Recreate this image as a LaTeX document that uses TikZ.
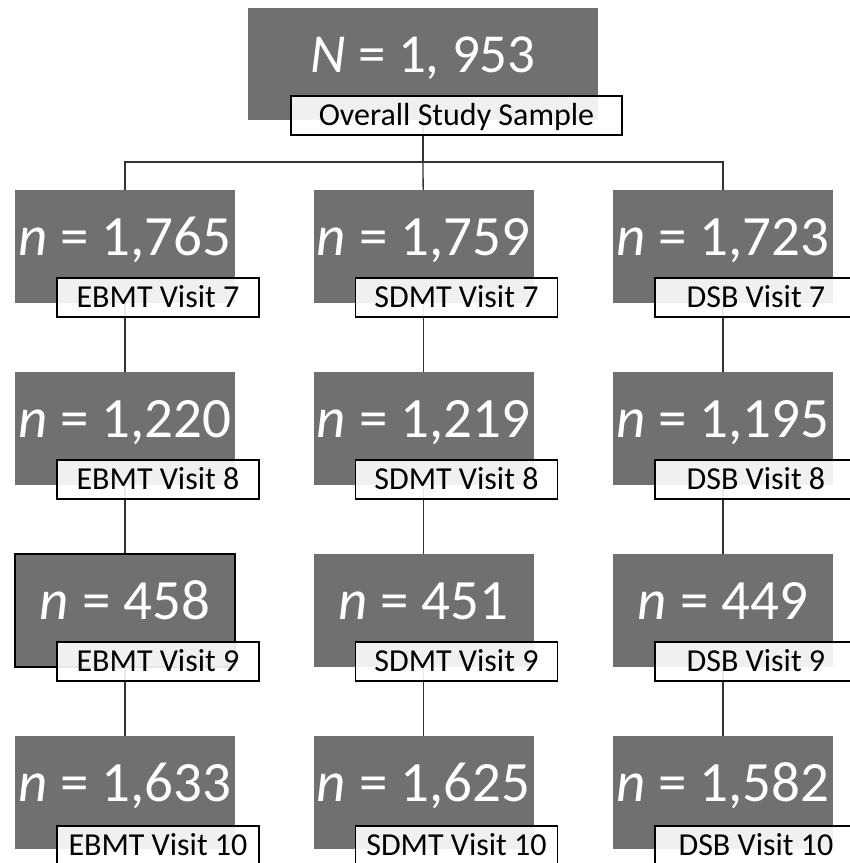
\documentclass[tikz,border=0pt]{standalone}
\usepackage{fontspec}
\setmainfont{Carlito}
\usetikzlibrary{backgrounds}
\definecolor{boxgray}{RGB}{112,112,112}
\definecolor{linegray}{RGB}{50,50,50}
\tikzset{
  countbox/.style={fill=boxgray, draw=none, text=white, inner sep=0pt,
    minimum width=220pt, minimum height=113pt,
    text height=40pt, text depth=23pt,
    font=\fontsize{57}{60}\selectfont},
  topbox/.style={countbox, minimum width=350pt, minimum height=112pt,
    font=\fontsize{55}{60}\selectfont},
  tagbox/.style={draw=black, line width=1.8pt, fill=white, fill opacity=0.9,
    text opacity=1, text=black, inner sep=0pt,
    minimum width=202pt, minimum height=39pt,
    text height=22pt, text depth=3pt,
    font=\fontsize{32}{34}\selectfont},
  conn/.style={draw=linegray, line width=1.3pt},
}
\begin{document}
\begin{tikzpicture}[x=1pt,y=-1pt]
\useasboundingbox (0,0) rectangle (850,863);

% overall sample
\node[topbox] (g0) at (423,64) {{\itshape N} = 1, 953};
\node[tagbox, minimum width=331pt] (t0) at (456.5,115.5) {Overall Study Sample};

% count boxes: columns centred at x = 125, 423.5, 723; row tops at 190, 372, 554, 736
\node[countbox] (g11) at (125,246.5)   {{\itshape n} = 1,765};
\node[countbox] (g12) at (423.5,246.5) {{\itshape n} = 1,759};
\node[countbox] (g13) at (723,246.5)   {{\itshape n} = 1,723};
\node[countbox] (g21) at (125,428.5)   {{\itshape n} = 1,220};
\node[countbox] (g22) at (423.5,428.5) {{\itshape n} = 1,219};
\node[countbox] (g23) at (723,428.5)   {{\itshape n} = 1,195};
\node[countbox, draw=black, line width=1.8pt] (g31) at (125,610.5) {{\itshape n} = 458};
\node[countbox] (g32) at (423.5,610.5) {{\itshape n} = 451};
\node[countbox] (g33) at (723,610.5)   {{\itshape n} = 449};
\node[countbox] (g41) at (125,792.5)   {{\itshape n} = 1,633};
\node[countbox] (g42) at (423.5,792.5) {{\itshape n} = 1,625};
\node[countbox] (g43) at (723,792.5)   {{\itshape n} = 1,582};

% visit tags, overlapping the lower right of each count box
\foreach \r/\v/\dy in {1/7/51, 2/8/51, 3/9/51, 4/10/53}{
  \node[tagbox] (t\r1) at ([xshift=33pt,yshift=-\dy pt]g\r1.center) {EBMT Visit \v};
  \node[tagbox] (t\r2) at ([xshift=33pt,yshift=-\dy pt]g\r2.center) {SDMT Visit \v};
  \node[tagbox] (t\r3) at ([xshift=33pt,yshift=-\dy pt]g\r3.center) {DSB Visit \v};
}

% connectors behind the boxes
\coordinate (split) at (423,162);
\begin{pgfonlayer}{background}
  \draw[conn] (g0.center) -- (split);
  \draw[conn] (g11.center) -- (g11.center |- split) -- (g13.center |- split) -- (g13.center);
  \draw[conn] (split) -- (g12.center);
  \foreach \c in {1,2,3}{
    \draw[conn] (g1\c.center) -- (g2\c.center) -- (g3\c.center) -- (g4\c.center);
  }
\end{pgfonlayer}

\end{tikzpicture}
\end{document}
